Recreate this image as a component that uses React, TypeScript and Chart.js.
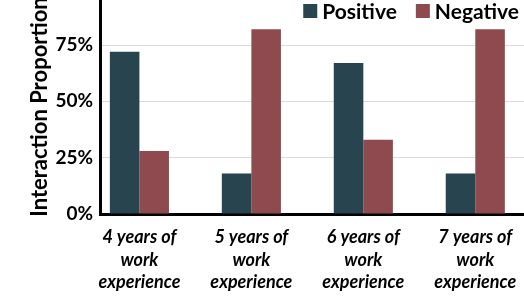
import React, { useEffect, useRef } from "react";
import { Chart, registerables } from "chart.js";

Chart.register(...registerables);

const categories: string[][] = [
  ["4 years of", "work", "experience"],
  ["5 years of", "work", "experience"],
  ["6 years of", "work", "experience"],
  ["7 years of", "work", "experience"],
];
const seriesNames = ["Positive", "Negative"];
const positiveValues = [72, 18, 67, 18];
const negativeValues = [28, 82, 33, 82];
const yTicks = [0, 25, 50, 75];

const FONT = "Lato, 'Open Sans', sans-serif";
const COLORS = ["#28454f", "#8e4a4f"];

const legendPlugin = {
  id: "cornerLegend",
  afterDraw(chart: any) {
    const ctx = chart.ctx;
    const area = chart.chartArea;
    ctx.save();
    ctx.font = `bold 21px ${FONT}`;
    ctx.textBaseline = "middle";
    ctx.textAlign = "left";
    const box = 14;
    const gapText = 5;
    const gapItem = 19;
    const widths = chart.data.datasets.map((d: any) => box + gapText + ctx.measureText(d.label).width);
    const total = widths.reduce((a: number, b: number) => a + b, 0) + gapItem * (widths.length - 1);
    let x = area.right - 5 - total;
    const cy = area.top + 11;
    chart.data.datasets.forEach((d: any, i: number) => {
      ctx.fillStyle = d.backgroundColor;
      ctx.fillRect(x, cy - box / 2, box, box);
      ctx.fillStyle = "#000";
      ctx.fillText(d.label, x + box + gapText, cy + 1);
      x += widths[i] + gapItem;
    });
    ctx.restore();
  },
};

export default function App() {
  const ref = useRef<HTMLCanvasElement | null>(null);

  useEffect(() => {
    document.body.style.margin = "0";
    const canvas = ref.current;
    if (!canvas) return;
    const chart = new Chart(canvas, {
      type: "bar",
      data: {
        datasets: [
          {
            label: seriesNames[0],
            data: positiveValues.map((v, i) => ({ x: i, y: v })),
            backgroundColor: COLORS[0],
            categoryPercentage: 0.528,
            barPercentage: 1,
          },
          {
            label: seriesNames[1],
            data: negativeValues.map((v, i) => ({ x: i, y: v })),
            backgroundColor: COLORS[1],
            categoryPercentage: 0.528,
            barPercentage: 1,
          },
        ],
      },
      plugins: [legendPlugin],
      options: {
        animation: false,
        responsive: false,
        maintainAspectRatio: false,
        layout: { padding: 0 },
        plugins: {
          tooltip: { enabled: false },
          legend: { display: false },
        },
        scales: {
          x: {
            type: "linear",
            min: -0.352,
            max: 3.435,
            offset: false,
            afterFit: (s: any) => {
              s.height = 92;
              s.paddingLeft = 0;
              s.paddingRight = 0;
            },
            afterBuildTicks: (s: any) => {
              s.ticks = categories.map((_, i) => ({ value: i }));
            },
            grid: { display: false, drawTicks: false },
            border: { display: true, color: "#000", width: 3 },
            ticks: {
              autoSkip: false,
              maxRotation: 0,
              padding: 12,
              color: "#000",
              font: { family: FONT, size: 18, weight: "bold", style: "italic", lineHeight: 1.25 },
              callback: (v: any) => categories[Math.round(Number(v))] ?? "",
            },
          },
          y: {
            min: 0,
            max: 95,
            afterFit: (s: any) => {
              s.width = 100;
              s.paddingTop = 0;
              s.paddingBottom = 0;
            },
            afterBuildTicks: (s: any) => {
              s.ticks = yTicks.map((v) => ({ value: v }));
            },
            grid: {
              color: (ctx: any) => (ctx.tick && ctx.tick.value === 0 ? "rgba(0,0,0,0)" : "#d9d9d9"),
              lineWidth: 1,
              drawTicks: false,
            },
            border: { display: true, color: "#000", width: 3 },
            ticks: {
              padding: 7,
              color: "#000",
              font: { family: FONT, size: 19, weight: "bold" },
              callback: (v: any) => v + "%",
            },
            title: {
              display: true,
              text: "Interaction Proportion",
              color: "#000",
              padding: { top: 27, bottom: 0 },
              font: { family: FONT, size: 22, weight: "bold" },
            },
          },
        },
      },
    } as any);
    return () => chart.destroy();
  }, []);

  return (
    <div style={{ width: 524, height: 306 }}>
      <canvas ref={ref} width={524} height={306} style={{ display: "block", width: 524, height: 306 }} />
    </div>
  );
}
